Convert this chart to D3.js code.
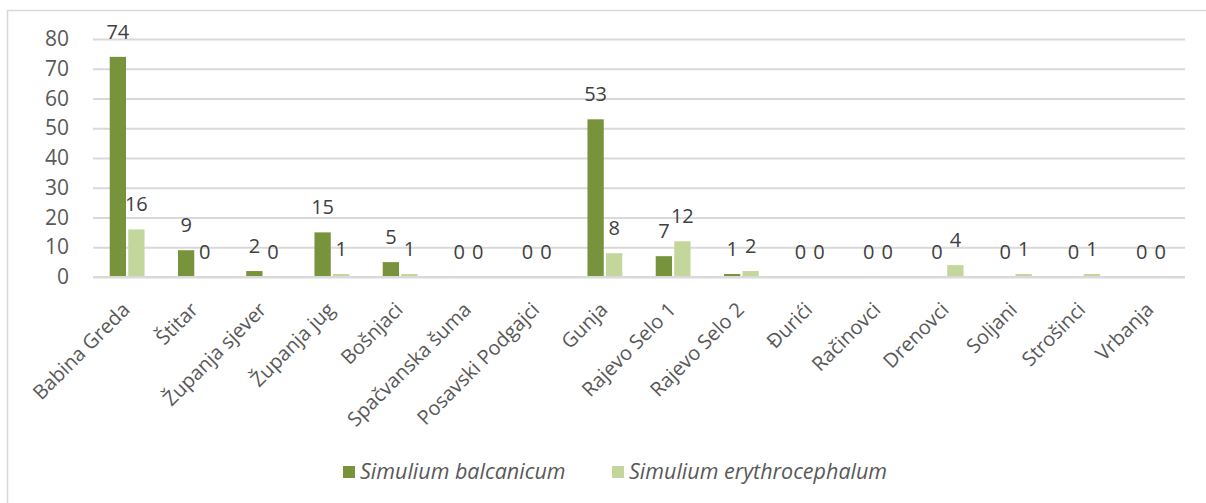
<!DOCTYPE html>
<html>
<head>
<meta charset="utf-8">
<script src="https://cdn.jsdelivr.net/npm/d3@7"></script>
<style>
  body { margin: 0; background: #fff; }
  svg { display: block; font-family: "Open Sans", sans-serif; }
</style>
</head>
<body>
<div id="chart"></div>
<script>
// Sampling sites
const sites = ["Babina Greda", "Štitar", "Županja sjever", "Županja jug", "Bošnjaci",
  "Spačvanska šuma", "Posavski Podgajci", "Gunja", "Rajevo Selo 1", "Rajevo Selo 2",
  "Đurići", "Račinovci", "Drenovci", "Soljani", "Strošinci", "Vrbanja"];

const seriesNames = ["Simulium balcanicum", "Simulium erythrocephalum"];
const balcanicum = [74, 9, 2, 15, 5, 0, 0, 53, 7, 1, 0, 0, 0, 0, 0, 0];
const erythrocephalum = [16, 0, 0, 1, 1, 0, 0, 8, 12, 2, 0, 0, 4, 1, 1, 0];
const yTicks = [0, 10, 20, 30, 40, 50, 60, 70, 80];

const colors = ["#77933c", "#c3d69b"];

(function() {
    const W = 1206, H = 503;
    const plot = { left: 93, right: 1185, top: 39, bottom: 277 };

    const svg = d3.select("#chart").append("svg")
        .attr("width", W)
        .attr("height", H);

    // chart frame (runs off the right and bottom edges)
    svg.append("rect")
        .attr("x", 7.5).attr("y", 10.5)
        .attr("width", 1220).attr("height", 520)
        .attr("fill", "none")
        .attr("stroke", "#d9d9d9")
        .attr("stroke-width", 1.5);

    const x = d3.scaleBand()
        .domain(sites)
        .range([plot.left, plot.right])
        .paddingInner(0)
        .paddingOuter(0);

    const inner = d3.scaleBand()
        .domain([0, 1])
        .range([x.bandwidth() * 0.245, x.bandwidth() * 0.755])
        .paddingInner(0.12);

    const y = d3.scaleLinear()
        .domain([0, 80])
        .range([plot.bottom, plot.top]);

    // gridlines + y labels
    const yAxis = svg.append("g")
        .attr("transform", `translate(${plot.left},0)`)
        .call(d3.axisLeft(y).tickValues(yTicks).tickSize(-(plot.right - plot.left)).tickPadding(24));
    yAxis.select(".domain").remove();
    yAxis.selectAll(".tick line").attr("stroke", "#d9d9d9").attr("stroke-width", 2);
    yAxis.selectAll(".tick text")
        .attr("fill", "#595959")
        .style("font-size", "21px")
        .style("font-family", "Open Sans, sans-serif");

    // bars
    const data = sites.map((s, i) => ({ site: s, vals: [balcanicum[i], erythrocephalum[i]] }));

    const groups = svg.append("g").selectAll("g")
        .data(data)
        .enter().append("g")
        .attr("transform", d => `translate(${x(d.site)},0)`);

    groups.selectAll("rect")
        .data(d => d.vals.map((v, k) => ({ v, k })))
        .enter().append("rect")
        .attr("x", d => inner(d.k))
        .attr("width", inner.bandwidth())
        .attr("y", d => y(d.v))
        .attr("height", d => y(0) - y(d.v))
        .attr("fill", d => colors[d.k]);

    // data labels
    groups.selectAll("text")
        .data(d => d.vals.map((v, k) => ({ v, k })))
        .enter().append("text")
        .attr("x", d => inner(d.k) + inner.bandwidth() / 2)
        .attr("y", d => y(d.v) - 18)
        .attr("text-anchor", "middle")
        .attr("fill", "#404040")
        .style("font-size", "20px")
        .text(d => d.v);

    // baseline
    svg.append("line")
        .attr("x1", plot.left).attr("x2", plot.right)
        .attr("y1", y(0)).attr("y2", y(0))
        .attr("stroke", "#d9d9d9").attr("stroke-width", 2);

    // category labels
    svg.append("g").selectAll("text")
        .data(sites)
        .enter().append("text")
        .attr("transform", d => `translate(${x(d) + x.bandwidth() / 2 + 4},${plot.bottom + 34}) rotate(-45)`)
        .attr("text-anchor", "end")
        .attr("fill", "#595959")
        .style("font-size", "20px")
        .text(d => d);

    // legend
    const legend = svg.append("g");
    const legendX = [343, 612];
    seriesNames.forEach((name, k) => {
        legend.append("rect")
            .attr("x", legendX[k]).attr("y", 466)
            .attr("width", 12).attr("height", 12)
            .attr("fill", colors[k]);
        legend.append("text")
            .attr("x", legendX[k] + 17).attr("y", 479)
            .attr("fill", "#595959")
            .style("font-size", "21.5px")
            .style("font-style", "italic")
            .text(name);
    });
})();
</script>
</body>
</html>
